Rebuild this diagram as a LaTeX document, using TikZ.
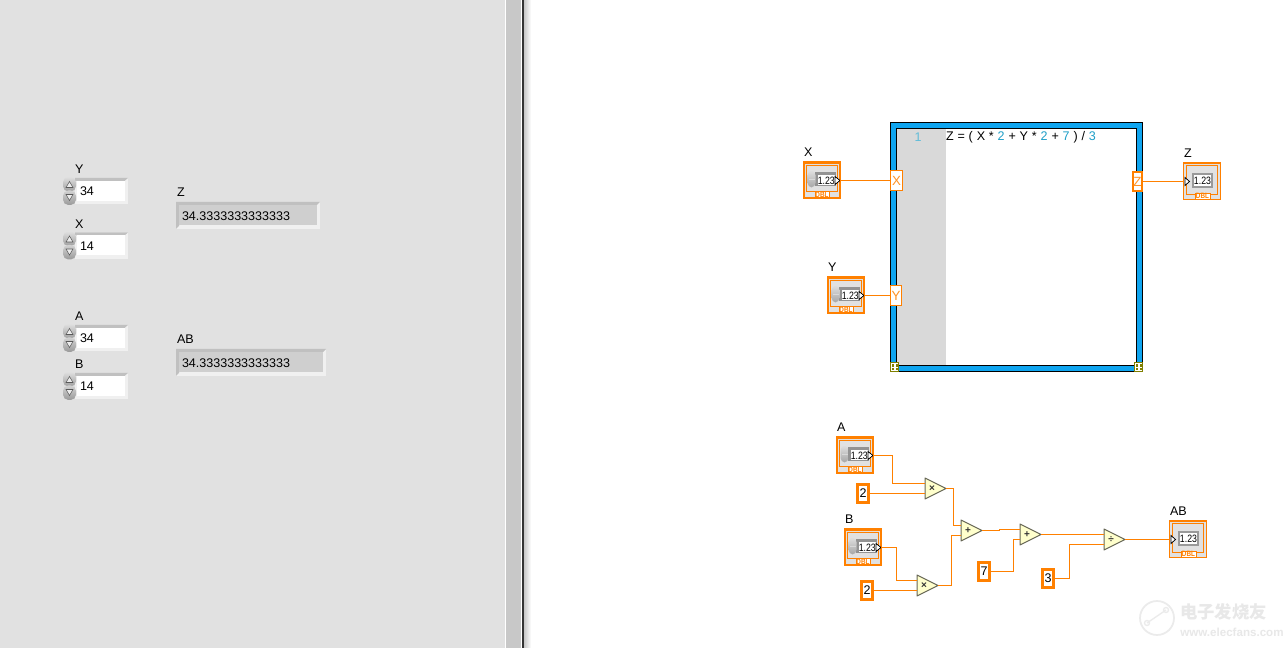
\documentclass[tikz,border=0pt]{standalone}
\usepackage{fontspec}
\setmainfont{Liberation Sans}
\newfontfamily\cjkwm{Noto Sans CJK SC}
\newfontfamily\narrowf[FakeStretch=0.82]{Liberation Sans}
\usetikzlibrary{shadings}
\definecolor{panel}{HTML}{E1E1E1}
\definecolor{splitter}{HTML}{C8C8C8}
\definecolor{dbl}{HTML}{FF8000}
\definecolor{loopblue}{HTML}{0FA5F0}
\definecolor{gutter}{HTML}{D9D9D9}
\definecolor{primfill}{HTML}{FFFFCC}
\definecolor{primline}{HTML}{666655}
\definecolor{digit}{HTML}{1E9FC8}
\definecolor{olive}{HTML}{808000}
\definecolor{sunk}{HTML}{C0C0C0}
\definecolor{lift}{HTML}{F0F0F0}
\tikzset{
  x=0.75pt,y=-0.75pt,
  lab/.style={font=\fontsize{9.4pt}{11pt}\selectfont,inner sep=0pt,outer sep=0pt,text=black},
  wire/.style={draw=dbl,line width=1pt},
  iconbox/.style={inner sep=0pt,outer sep=0pt,fill=panel},
  ctlbox/.style={iconbox,draw=dbl,line width=1.6pt,minimum width=26.9pt,minimum height=26.9pt},
  indbox/.style={iconbox,draw=dbl,line width=0.8pt,minimum width=27.7pt,minimum height=27.7pt},
  tagtext/.style={font=\narrowf\bfseries\fontsize{5.8pt}{6pt}\selectfont,inner sep=0pt,text=dbl},
  valtext/.style={font=\narrowf\fontsize{8pt}{9pt}\selectfont,inner sep=0pt,text=black},
  const/.style={draw=dbl,fill=white,line width=1.9pt,inner sep=0pt,outer sep=0pt,minimum height=13.2pt,
    font=\fontsize{9.4pt}{11pt}\selectfont},
  tunnel/.style={draw=dbl,fill=white,line width=0.95pt,inner sep=0pt,outer sep=0pt,
    font=\fontsize{10pt}{11pt}\selectfont,text=dbl!85},
  primshape/.style={fill=primfill,draw=primline,line width=0.75pt,line join=round},
  primsym/.style={font=\bfseries\fontsize{7.5pt}{8pt}\selectfont,inner sep=0pt,text=black!80},
}
% block diagram control terminal: name, left, top, label
\newcommand\ctlicon[4]{%
  \node[ctlbox] (#1) at (#2+19,#3+19) {};
  \node[lab,anchor=west] (#1-label) at (#2+1,#3-9.5) {#4};
  \begin{scope}[shift={(#2,#3)}]
    \draw[dbl,line width=0.7pt] (12,30) -- (3.8,30) -- (3.8,3.8) -- (34.2,3.8) -- (34.2,30) -- (26,30);
    \fill[gray!85] (12,11) rectangle (33,25);
    \fill[white] (15,13.5) rectangle (32,24);
    \shade[top color=gray!25,bottom color=gray!70,rounded corners=3.5pt] (4.5,9) rectangle (12.5,26);
    \draw[white!70!gray,line width=0.5pt] (5.5,17.5) -- (11.5,17.5);
    \draw[fill=white,draw=black,line width=0.55pt] (32,15) -- (37,19) -- (32,23) -- cycle;
    \draw[fill=white,draw=dbl,line width=0.7pt] (12,30) rectangle (26,36.2);
    \node[tagtext] (#1-tag) at (19,33.2) {DBL};
    \node[valtext] (#1-val) at (23.3,19) {1.23};
  \end{scope}}
% block diagram indicator terminal
\newcommand\indicon[4]{%
  \node[indbox] (#1) at (#2+19,#3+19) {};
  \node[lab,anchor=west] (#1-label) at (#2+1,#3-9.5) {#4};
  \begin{scope}[shift={(#2,#3)}]
    \draw[dbl,line width=0.7pt] (12,32) -- (3.3,32) -- (3.3,3.3) -- (34.7,3.3) -- (34.7,32) -- (27,32);
    \fill[gray!80] (9,11) rectangle (30,26);
    \fill[white] (11,13) rectangle (28,24);
    \draw[fill=white,draw=black,line width=0.55pt] (2,15) -- (6.5,19) -- (2,23) -- cycle;
    \draw[fill=white,draw=dbl,line width=0.7pt] (12,30.5) rectangle (27,36.5);
    \node[tagtext] (#1-tag) at (19.5,33.5) {DBL};
    \node[valtext] (#1-val) at (19.5,18.7) {1.23};
  \end{scope}}
% primitive: name, left, centre y, symbol
\newcommand\prim[4]{%
  \draw[primshape] (#2,#3-10.5) -- (#2+21,#3) -- (#2,#3+10.5) -- cycle;
  \node[primsym] (#1) at (#2+7,#3) {#4};
  \coordinate (#1-a) at (#2,#3-5);
  \coordinate (#1-b) at (#2,#3+5);
  \coordinate (#1-o) at (#2+21,#3);}
% front panel numeric control: name, top, label, value
\newcommand\numctl[4]{%
  \node[lab,anchor=west] (#1-label) at (75,#2-8.5) {#3};
  \fill[lift] (75,#2) rectangle (128,#2+26.5);
  \fill[sunk] (75,#2) -- (128,#2) -- (124.5,#2+3) -- (75,#2+3) -- cycle;
  \fill[white] (77,#2+3) rectangle (124.5,#2+23);
  \shade[top color=gray!25,bottom color=gray!75,rounded corners=4pt] (63,#2-1) rectangle (76,#2+13.5);
  \shade[top color=gray!35,bottom color=gray!80,rounded corners=4pt] (63,#2+12.5) rectangle (76,#2+27);
  \draw[black!65,line width=0.4pt,fill=gray!15] (66,#2+9.5) -- (69.5,#2+3.5) -- (73,#2+9.5) -- cycle;
  \draw[black!65,line width=0.4pt,fill=gray!15] (66,#2+16.5) -- (69.5,#2+22.5) -- (73,#2+16.5) -- cycle;
  \node[lab,anchor=west] (#1-value) at (80,#2+13.3) {#4};}
% front panel numeric indicator: name, left, top, right, label
\newcommand\numind[5]{%
  \node[lab,anchor=west] (#1-label) at (177,#3-9.5) {#5};
  \fill[lift] (#2,#3) rectangle (#4,#3+27);
  \fill[sunk] (#2,#3) -- (#4,#3) -- (#4-3,#3+3) -- (#2+3,#3+3) -- (#2+3,#3+24) -- (#2,#3+27) -- cycle;
  \fill[black!19] (#2+3,#3+3) rectangle (#4-3.5,#3+23.5);
  \node[lab,anchor=west] (#1-value) at (182,#3+13.7) {34.3333333333333};}
% structure corner icon
\newcommand\erricon[3]{%
  \node[draw=olive,fill=white,line width=0.9pt,inner sep=0pt,outer sep=0pt,minimum width=5.8pt,minimum height=6.2pt] (#1) at (#2,#3) {};
  \fill[olive] (#2-2.5,#3-3) rectangle (#2-0.5,#3+0.5);
  \fill[olive] (#2-2.5,#3+1.5) rectangle (#2-0.5,#3+3);
  \fill[olive] (#2+1,#3-3) rectangle (#2+3,#3+0.5);
  \fill[olive] (#2+1,#3+1.5) rectangle (#2+3,#3+3);}
\begin{document}
\begin{tikzpicture}
\useasboundingbox (0,0) rectangle (1286,648);
\fill[white] (0,0) rectangle (1286,648);
% window panes
\fill[panel] (0,0) rectangle (505,648);
\fill[splitter] (506,0) rectangle (521,648);
\shade[left color=black!22,right color=white] (524,0) rectangle (531,648);
\fill[black!80] (522,0) rectangle (524,648);
% front panel
\numctl{fy}{178}{Y}{34}
\numctl{fx}{232.5}{X}{14}
\numctl{fa}{325}{A}{34}
\numctl{fb}{373}{B}{14}
\numind{fz}{176}{202}{320}{Z}
\numind{fab}{176}{349}{326}{AB}
% formula node
\fill[loopblue] (890,122) rectangle (1143,372);
\draw[black,line width=0.75pt] (890.5,122.5) rectangle (1142.5,371.5);
\fill[white] (896,129) rectangle (1136.5,365.5);
\fill[gutter] (896,129) rectangle (946,365.5);
\draw[black,line width=0.75pt] (896,129) rectangle (1136.5,365.5);
\node[lab,text=digit!70] (lineno) at (918,137.5) {1};
\node[lab,anchor=west] (code) at (946,137.5) {Z\kern2.9pt=\kern2.9pt(\kern2.9pt X\kern2.9pt*\kern2.9pt{\color{digit}2}\kern2.9pt+\kern2.9pt Y\kern2.9pt*\kern2.9pt{\color{digit}2}\kern2.9pt+\kern2.9pt{\color{digit}7}\kern2.9pt)\kern2.9pt/\kern2.9pt{\color{digit}3}};
\erricon{errl}{894.5}{367}
\erricon{errr}{1138.5}{367}
% terminals
\ctlicon{X}{803}{161.5}{X}
\ctlicon{Y}{827}{276.5}{Y}
\ctlicon{A}{836}{436.5}{A}
\ctlicon{B}{844}{528.5}{B}
\indicon{Z}{1183}{162.5}{Z}
\indicon{AB}{1169}{520.5}{AB}
% tunnels
\node[tunnel,minimum width=9.2pt,minimum height=15pt] (tx) at (896.5,180.5) {X};
\node[tunnel,minimum width=8.4pt,minimum height=15pt] (ty) at (896,295.5) {Y};
\node[tunnel,line width=1.9pt,minimum width=6.6pt,minimum height=14pt] (tz) at (1137.5,181.5) {Z};
% constants
\node[const,minimum width=8.5pt] (c2a) at (863,493.5) {2};
\node[const,minimum width=8pt] (c2b) at (867,590.5) {2};
\node[const,minimum width=8.5pt] (c7) at (984,571.5) {7};
\node[const,minimum width=8.5pt] (c3) at (1048,578.5) {3};
% primitives
\prim{mula}{925}{488.5}{×}
\prim{mulb}{917}{585.5}{×}
\prim{adda}{961}{530.5}{+}
\prim{addb}{1020}{534.5}{+}
\prim{divn}{1104}{539.5}{÷}
% wires
\draw[wire] (X.east) -- (tx.west);
\draw[wire] (Y.east) -- (ty.west);
\draw[wire] (tz.east) -- (Z.west);
\draw[wire] (A.east) -| (892.5,483.5) -- (mula-a);
\draw[wire] (c2a.east) -- (mula-b);
\draw[wire] (B.east) -| (896.5,580.5) -- (mulb-a);
\draw[wire] (c2b.east) -- (mulb-b);
\draw[wire] (mula-o) -| (953.5,525.5) -- (adda-a);
\draw[wire] (mulb-o) -| (951.5,535.5) -- (adda-b);
\draw[wire] (adda-o) -| (999.5,529.5) -- (addb-a);
\draw[wire] (c7.east) -| (1013.5,539.5) -- (addb-b);
\draw[wire] (addb-o) -- (divn-a);
\draw[wire] (c3.east) -| (1069.5,544.5) -- (divn-b);
\draw[wire] (divn-o) -- (AB.west);
% watermark
\draw[black!8,line width=1.3pt] (1157,618) circle[radius=17];
\draw[black!8,line width=1pt] (1147,623) -- (1166,610);
\draw[black!8,line width=1pt] (1147,623) circle[radius=2.5];
\draw[black!8,line width=1pt] (1166,610) circle[radius=2.5];
\node[inner sep=0pt,text=black!9,anchor=west,font=\cjkwm\bfseries\fontsize{13pt}{14pt}\selectfont] (wmcn) at (1180,612) {电子发烧友};
\node[inner sep=0pt,text=black!9,anchor=west,font=\bfseries\fontsize{8.7pt}{10pt}\selectfont] (wmen) at (1180,632) {www.elecfans.com};
\end{tikzpicture}
\end{document}
